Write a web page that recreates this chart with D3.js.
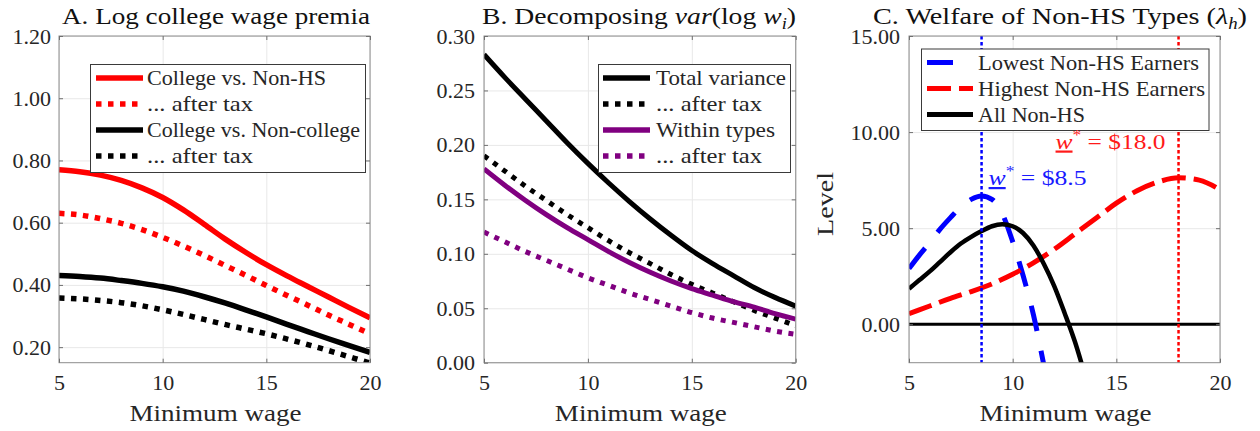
<!DOCTYPE html>
<html>
<head>
<meta charset="utf-8">
<script src="https://cdn.jsdelivr.net/npm/d3@7"></script>
<style>
  html, body { margin: 0; padding: 0; background: #ffffff; }
  svg text { font-family: "Liberation Serif", "DejaVu Serif", serif !important; }
</style>
</head>
<body>
<svg id="chart" width="1260" height="431"></svg>
<script>
// ---------------- data ----------------
// Minimum wage grid (dollars per hour)
const minWage = [5, 6, 7, 8, 9, 10, 11, 12, 13, 14, 15, 16, 17, 18, 19, 20];
const xTickValues = [5, 10, 15, 20];

// Panel A: log college wage premia
const premiumNonHS          = [0.770, 0.764, 0.753, 0.736, 0.712, 0.681, 0.641, 0.595, 0.548, 0.505, 0.465, 0.429, 0.395, 0.361, 0.327, 0.294];
const premiumNonHSAfterTax  = [0.630, 0.625, 0.613, 0.598, 0.578, 0.553, 0.525, 0.495, 0.463, 0.431, 0.398, 0.366, 0.335, 0.303, 0.273, 0.243];
const premiumNonCol         = [0.430, 0.427, 0.422, 0.414, 0.405, 0.394, 0.380, 0.362, 0.342, 0.320, 0.297, 0.273, 0.250, 0.227, 0.205, 0.183];
const premiumNonColAfterTax = [0.358, 0.355, 0.350, 0.343, 0.333, 0.320, 0.305, 0.289, 0.273, 0.258, 0.243, 0.226, 0.208, 0.189, 0.169, 0.149];
const yTicksA = [0.20, 0.40, 0.60, 0.80, 1.00, 1.20];

// Panel B: variance of log wages
const varTotal            = [0.283, 0.262, 0.242, 0.222, 0.202, 0.183, 0.165, 0.148, 0.132, 0.117, 0.103, 0.091, 0.080, 0.069, 0.060, 0.052];
const varTotalAfterTax    = [0.190, 0.176, 0.162, 0.149, 0.136, 0.124, 0.112, 0.101, 0.091, 0.081, 0.072, 0.064, 0.056, 0.048, 0.041, 0.034];
const varWithin           = [0.178, 0.163, 0.149, 0.136, 0.124, 0.113, 0.102, 0.092, 0.083, 0.075, 0.068, 0.062, 0.056, 0.051, 0.045, 0.040];
const varWithinAfterTax   = [0.120, 0.111, 0.102, 0.094, 0.086, 0.078, 0.071, 0.064, 0.058, 0.052, 0.046, 0.041, 0.037, 0.033, 0.029, 0.026];
const yTicksB = [0.00, 0.05, 0.10, 0.15, 0.20, 0.25, 0.30];

// Panel C: welfare of non-HS types
const lowestWage    = [5, 5.5, 6, 6.5, 7, 7.5, 8, 8.5, 9, 9.5, 10, 10.5, 11, 11.5, 12];
const lowestWelfare = [2.90, 3.60, 4.25, 4.95, 5.55, 6.10, 6.50, 6.68, 6.50, 5.75, 4.30, 2.55, 0.50, -2.10, -4.80];
const highestWelfare = [0.55, 0.95, 1.35, 1.70, 2.10, 2.60, 3.20, 3.90, 4.70, 5.50, 6.30, 6.95, 7.40, 7.62, 7.50, 7.00];
const allWage    = [5, 5.5, 6, 6.5, 7, 7.5, 8, 8.5, 9, 9.5, 10, 10.5, 11, 11.5, 12, 12.5, 13, 13.5];
const allWelfare = [1.85, 2.30, 2.75, 3.25, 3.75, 4.20, 4.55, 4.85, 5.10, 5.20, 5.10, 4.75, 4.10, 3.15, 2.00, 0.60, -0.90, -2.70];
const optimalLowest  = 8.5;
const optimalHighest = 18.0;
const yTicksC = [0, 5, 10, 15];

// ---------------- drawing ----------------
const SERIF = '"Liberation Serif", "DejaVu Serif", serif';
const svg = d3.select("#chart");
const TEXT = "#262626";
let clipCount = 0;

function fitText(sel, width) {
  if (width) sel.attr("textLength", width).attr("lengthAdjust", "spacingAndGlyphs");
  return sel;
}

function drawPanel(cfg) {
  const g = svg.append("g");
  const x = d3.scaleLinear().domain([5, 20]).range([cfg.left, cfg.right]);
  const y = d3.scaleLinear().domain(cfg.yDomain).range([cfg.bottom, cfg.top]);
  const h = cfg.bottom - cfg.top, w = cfg.right - cfg.left;

  // grid
  g.append("g").attr("transform", `translate(0,${cfg.bottom})`)
    .call(d3.axisBottom(x).tickValues(xTickValues).tickSize(-h).tickFormat(""))
    .call(s => { s.select(".domain").remove(); s.selectAll("line").attr("stroke", "#e8e8e8").attr("stroke-width", 1); });
  g.append("g").attr("transform", `translate(${cfg.left},0)`)
    .call(d3.axisLeft(y).tickValues(cfg.yTicks).tickSize(-w).tickFormat(""))
    .call(s => { s.select(".domain").remove(); s.selectAll("line").attr("stroke", "#e8e8e8").attr("stroke-width", 1); });

  // clipped plot content
  const clipId = "clip" + (clipCount++);
  svg.append("clipPath").attr("id", clipId)
    .append("rect").attr("x", cfg.left).attr("y", cfg.top).attr("width", w).attr("height", h);
  const plot = g.append("g").attr("clip-path", `url(#${clipId})`);

  if (cfg.before) cfg.before(plot, x, y);

  cfg.series.forEach(s => {
    const pts = s.xs.map((xv, i) => [xv, s.ys[i]]);
    plot.append("path")
      .attr("d", d3.line().x(d => x(d[0])).y(d => y(d[1])).curve(d3.curveMonotoneX)(pts))
      .attr("fill", "none")
      .attr("stroke", s.color)
      .attr("stroke-width", s.width)
      .attr("stroke-dasharray", s.dash || null)
      .attr("stroke-linejoin", "round");
  });

  if (cfg.after) cfg.after(plot, x, y);

  // box
  g.append("rect").attr("x", cfg.left).attr("y", cfg.top).attr("width", w).attr("height", h)
    .attr("fill", "none").attr("stroke", "#8c8c8c").attr("stroke-width", 1);

  // axes with inward ticks
  const styleAxis = s => {
    s.attr("font-family", SERIF);
    s.select(".domain").remove();
    s.selectAll(".tick line").attr("stroke", "#707070");
    s.selectAll("text").attr("fill", TEXT).attr("font-size", 22);
  };
  g.append("g").attr("transform", `translate(${cfg.left},0)`)
    .call(d3.axisLeft(y).tickValues(cfg.yTicks).tickFormat(d3.format(".2f")).tickSizeInner(-4).tickSizeOuter(0).tickPadding(cfg.yPad))
    .call(styleAxis);
  g.append("g").attr("transform", `translate(${cfg.right},0)`)
    .call(d3.axisRight(y).tickValues(cfg.yTicks).tickFormat("").tickSizeInner(-4).tickSizeOuter(0))
    .call(styleAxis);
  g.append("g").attr("transform", `translate(0,${cfg.bottom})`)
    .call(d3.axisBottom(x).tickValues(xTickValues).tickFormat(d3.format("d")).tickSizeInner(-4).tickSizeOuter(0).tickPadding(12))
    .call(styleAxis);
  g.append("g").attr("transform", `translate(0,${cfg.top})`)
    .call(d3.axisTop(x).tickValues(xTickValues).tickFormat("").tickSizeInner(-4).tickSizeOuter(0))
    .call(styleAxis);

  // title
  const t = g.append("text").attr("x", cfg.titleX).attr("y", 24)
    .attr("text-anchor", "middle").attr("font-size", 24).attr("fill", "#111");
  cfg.title(t);
  fitText(t, cfg.titleWidth);

  // x label
  fitText(g.append("text").attr("x", (cfg.left + cfg.right) / 2 + 1).attr("y", 421)
    .attr("text-anchor", "middle").attr("font-size", 23).attr("fill", TEXT)
    .text("Minimum wage"), 172);

  // legend
  const L = cfg.legend;
  const lg = g.append("g");
  lg.append("rect").attr("x", L.x0).attr("y", L.y0).attr("width", L.x1 - L.x0).attr("height", L.y1 - L.y0)
    .attr("fill", "#fff").attr("stroke", "#3a3a3a").attr("stroke-width", 1);
  L.items.forEach((it, i) => {
    const ry = L.rows[i];
    lg.append("line").attr("x1", L.s0).attr("x2", L.s1).attr("y1", ry).attr("y2", ry)
      .attr("stroke", it.color).attr("stroke-width", it.width).attr("stroke-dasharray", it.dash || null);
    fitText(lg.append("text").attr("x", L.tx).attr("y", ry + 7).attr("font-size", 21).attr("fill", TEXT)
      .text(it.label), it.tw);
  });

  return { g, x, y };
}

const dotA = "5.5,6.5";
const dotB = "5,6.5";

// Panel A
drawPanel({
  left: 59, right: 370, top: 36, bottom: 362.7, yDomain: [0.15, 1.2], yTicks: yTicksA, yPad: 8,
  titleX: 216, titleWidth: 308,
  title: t => t.text("A. Log college wage premia"),
  series: [
    { xs: minWage, ys: premiumNonHS, color: "#ff0000", width: 5.5 },
    { xs: minWage, ys: premiumNonHSAfterTax, color: "#ff0000", width: 5.5, dash: dotA },
    { xs: minWage, ys: premiumNonCol, color: "#000000", width: 5.5 },
    { xs: minWage, ys: premiumNonColAfterTax, color: "#000000", width: 5.5, dash: dotA }
  ],
  legend: {
    x0: 90.5, x1: 365.5, y0: 64.5, y1: 172.5, s0: 96, s1: 143, tx: 147,
    rows: [78, 104, 130, 156],
    items: [
      { label: "College vs. Non-HS", color: "#ff0000", width: 5.5, tw: 179 },
      { label: "... after tax", color: "#ff0000", width: 5.5, dash: dotA, tw: 106 },
      { label: "College vs. Non-college", color: "#000000", width: 5.5, tw: 213 },
      { label: "... after tax", color: "#000000", width: 5.5, dash: dotA, tw: 106 }
    ]
  }
});

// Panel B
drawPanel({
  left: 484, right: 795.7, top: 36, bottom: 362.7, yDomain: [0, 0.3], yTicks: yTicksB, yPad: 9,
  titleX: 639, titleWidth: 314,
  title: t => {
    t.append("tspan").text("B. Decomposing ");
    t.append("tspan").attr("font-style", "italic").text("var");
    t.append("tspan").text("(log ");
    t.append("tspan").attr("font-style", "italic").text("w");
    t.append("tspan").attr("font-style", "italic").attr("font-size", 16).attr("dy", 5).text("i");
    t.append("tspan").attr("dy", -5).text(")");
  },
  series: [
    { xs: minWage, ys: varTotal, color: "#000000", width: 5 },
    { xs: minWage, ys: varTotalAfterTax, color: "#000000", width: 5, dash: dotB },
    { xs: minWage, ys: varWithin, color: "#800080", width: 5 },
    { xs: minWage, ys: varWithinAfterTax, color: "#800080", width: 5, dash: dotB }
  ],
  legend: {
    x0: 598.5, x1: 790.5, y0: 64.5, y1: 172.5, s0: 603, s1: 650, tx: 656,
    rows: [78, 104, 130, 156],
    items: [
      { label: "Total variance", color: "#000000", width: 5.5, tw: 130 },
      { label: "... after tax", color: "#000000", width: 5.5, dash: dotA, tw: 106 },
      { label: "Within types", color: "#800080", width: 5.5, tw: 119 },
      { label: "... after tax", color: "#800080", width: 5.5, dash: dotA, tw: 106 }
    ]
  }
});

// Panel C
const pc = drawPanel({
  left: 909, right: 1220, top: 36, bottom: 362.7, yDomain: [-2, 15], yTicks: yTicksC, yPad: 9,
  titleX: 1060, titleWidth: 374,
  title: t => {
    t.append("tspan").text("C. Welfare of Non-HS Types (");
    t.append("tspan").attr("font-style", "italic").text("λ");
    t.append("tspan").attr("font-style", "italic").attr("font-size", 16).attr("dy", 5).text("h");
    t.append("tspan").attr("dy", -5).text(")");
  },
  before: (plot, x, y) => {
    // zero reference line
    plot.append("line").attr("x1", x(5)).attr("x2", x(20)).attr("y1", y(0)).attr("y2", y(0))
      .attr("stroke", "#000").attr("stroke-width", 3);
  },
  series: [
    { xs: lowestWage, ys: lowestWelfare, color: "#0000ff", width: 5, dash: "26,20" },
    { xs: minWage, ys: highestWelfare, color: "#ff0000", width: 5, dash: "24,8" },
    { xs: allWage, ys: allWelfare, color: "#000000", width: 4.5 }
  ],
  after: (plot, x, y) => {
    // optimal minimum wage markers
    [[optimalLowest, "#0000ff"], [optimalHighest, "#ff0000"]].forEach(([v, c]) => {
      plot.append("line").attr("x1", x(v)).attr("x2", x(v)).attr("y1", y(15)).attr("y2", y(-2))
        .attr("stroke", c).attr("stroke-width", 2.5).attr("stroke-dasharray", "3.5,2.5");
    });
  },
  legend: {
    x0: 921.5, x1: 1209, y0: 49, y1: 130.5, s0: 927, s1: 973, tx: 978,
    rows: [62.5, 88.5, 114.5],
    items: [
      { label: "Lowest Non-HS Earners", color: "#0000ff", width: 5, dash: "26,20", tw: 221 },
      { label: "Highest Non-HS Earners", color: "#ff0000", width: 5, dash: "24,8", tw: 227 },
      { label: "All Non-HS", color: "#000000", width: 5, tw: 107 }
    ]
  }
});

// y label of panel C
fitText(svg.append("text").attr("transform", "translate(833,204) rotate(-90)")
  .attr("text-anchor", "middle").attr("font-size", 23).attr("fill", TEXT).text("Level"), 64);

// optimum annotations
function wStarLabel(v, color, xPos, anchor, baseline, width) {
  const t = svg.append("text").attr("x", xPos).attr("y", baseline).attr("text-anchor", anchor)
    .attr("font-size", 22).attr("fill", color);
  t.append("tspan").attr("font-style", "italic").attr("text-decoration", "underline").text("w");
  t.append("tspan").attr("font-size", 15).attr("dy", -9).text("*");
  t.append("tspan").attr("dy", 9).text(" = $" + v.toFixed(1));
  fitText(t, width);
}
wStarLabel(optimalLowest, "#1a1aff", pc.x(optimalLowest) + 7, "start", 185, 98);
wStarLabel(optimalHighest, "#ff1a1a", pc.x(optimalHighest) - 13, "end", 148.5, 110);
</script>
</body>
</html>
